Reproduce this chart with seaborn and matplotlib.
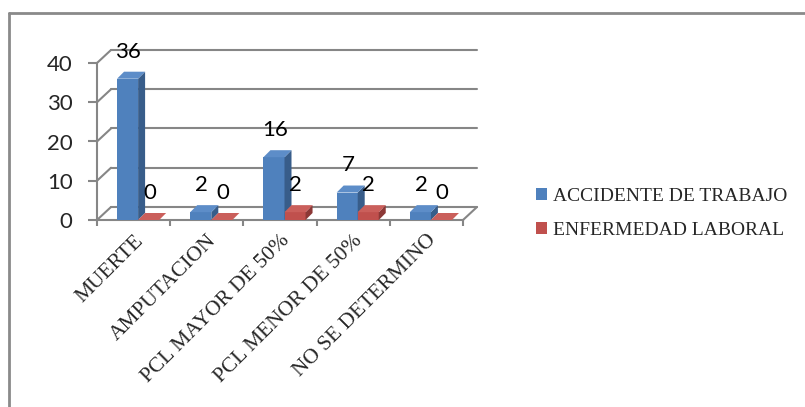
import pandas as pd
import matplotlib.pyplot as plt
import seaborn as sns
from matplotlib.patches import Polygon, Patch
from matplotlib.lines import Line2D
from matplotlib.ticker import FixedLocator

# datos del grafico
categorias = ["MUERTE", "AMPUTACION", "PCL MAYOR DE 50%", "PCL MENOR DE 50%", "NO SE DETERMINO"]
series = ["ACCIDENTE DE TRABAJO", "ENFERMEDAD LABORAL"]
accidente = [36, 2, 16, 7, 2]
enfermedad = [0, 0, 2, 2, 0]
y_ticks = [0, 10, 20, 30, 40]

df = pd.DataFrame({
    "categoria": categorias * 2,
    "serie": [series[0]] * len(categorias) + [series[1]] * len(categorias),
    "valor": accidente + enfermedad,
})

# colores estilo excel: frente, lado, tapa
frente = {series[0]: "#4F81BD", series[1]: "#C0504D"}
lado = {series[0]: "#385D8A", series[1]: "#8C3836"}
tapa = {series[0]: "#5D8DC8", series[1]: "#CA5F5B"}
gris = "#868686"

sns.set_style("white")
plt.rcParams["font.family"] = ["Lato", "DejaVu Sans"]

fig = plt.figure(figsize=(8.05, 4.07), dpi=100)
W, H = 805, 407
ax = fig.add_axes([97 / W, (H - 220) / H, 366 / W, 157 / H])

sns.barplot(data=df, x="categoria", y="valor", hue="serie", order=categorias,
            hue_order=series, palette=frente, width=0.575, legend=False,
            saturation=1, ax=ax)

ax.set_xlim(-0.5, len(categorias) - 0.5)
ax.set_ylim(0, 40)

# profundidad del "3D" en unidades de datos
px_x = ax.bbox.width / len(categorias)
px_y = ax.bbox.height / 40
wall_dx, wall_dy = 14 / px_x, 13 / px_y
bar_dx, bar_dy = 7 / px_x, 7 / px_y
shift = 4.5 / px_x

# pared del fondo y lineas diagonales
x0, x1 = -0.5, len(categorias) - 0.5
for v in y_ticks:
    ax.plot([x0 + wall_dx, x1 + wall_dx], [v + wall_dy, v + wall_dy], color=gris, lw=1.5, zorder=1, clip_on=False)
    ax.plot([x0, x0 + wall_dx], [v, v + wall_dy], color=gris, lw=1.5, zorder=1, clip_on=False)
ax.plot([x1, x1 + wall_dx], [0, wall_dy], color=gris, lw=1.5, zorder=1, clip_on=False)

# caras laterales y superiores de las barras
n = len(categorias)
for k, s in enumerate(series):
    for i in range(n):
        p = ax.patches[k * n + i]
        p.set_x(p.get_x() + shift)
        p.set_linewidth(0)
        x, w, h = p.get_x(), p.get_width(), p.get_height()
        z = 3 + i * 2 + k * 0.5
        p.set_zorder(z)
        side = Polygon([(x + w, 0), (x + w + bar_dx, bar_dy), (x + w + bar_dx, h + bar_dy), (x + w, h)],
                       closed=True, facecolor=lado[s], edgecolor="none", zorder=z, clip_on=False)
        top = Polygon([(x, h), (x + bar_dx, h + bar_dy), (x + w + bar_dx, h + bar_dy), (x + w, h)],
                      closed=True, facecolor=tapa[s], edgecolor="none", zorder=z, clip_on=False)
        ax.add_patch(side)
        ax.add_patch(top)
        p.set_clip_on(False)
        ax.annotate(str(int(h)), (x + w / 2, h), xytext=(0.5, 19.5), textcoords="offset points",
                    ha="center", va="center", fontsize=16, color="black", zorder=20,
                    annotation_clip=False)

# ejes
sns.despine(ax=ax, top=True, right=True)
for sp in ["left", "bottom"]:
    ax.spines[sp].set_color(gris)
    ax.spines[sp].set_linewidth(1.5)
ax.set_xlabel("")
ax.set_ylabel("")
ax.set_yticks(y_ticks)
ax.tick_params(axis="y", length=6.5, width=1.5, color=gris, pad=11, labelsize=16, direction="out", left=True)
ax.set_xticks(range(n))
ax.set_xticklabels(categorias, rotation=45, ha="right", rotation_mode="anchor",
                   fontsize=15.5, family=["Liberation Serif", "DejaVu Serif"])
ax.tick_params(axis="x", which="major", length=0, pad=8)
ax.xaxis.set_minor_locator(FixedLocator([i - 0.5 for i in range(n + 1)]))
ax.tick_params(axis="x", which="minor", length=4, width=1.5, color=gris, direction="out", bottom=True)
ax.grid(False)

# leyenda
handles = [Patch(facecolor=frente[s], edgecolor="none") for s in series]
fig.legend(handles, series, loc="upper left", bbox_to_anchor=(536 / W, (H - 188) / H),
           frameon=False, prop={"family": ["Liberation Serif", "DejaVu Serif"], "size": 14},
           handlelength=0.55, handleheight=0.55, handletextpad=0.3, labelspacing=0.85,
           borderpad=0, borderaxespad=0)

# marco gris (solo arriba e izquierda visibles)
fig.add_artist(Line2D([9 / W, 1], [1 - 13 / H, 1 - 13 / H], color="#8A8A8A", lw=2))
fig.add_artist(Line2D([9 / W, 9 / W], [0, 1 - 13 / H], color="#8A8A8A", lw=2))

fig.savefig("out.png", dpi=100)
